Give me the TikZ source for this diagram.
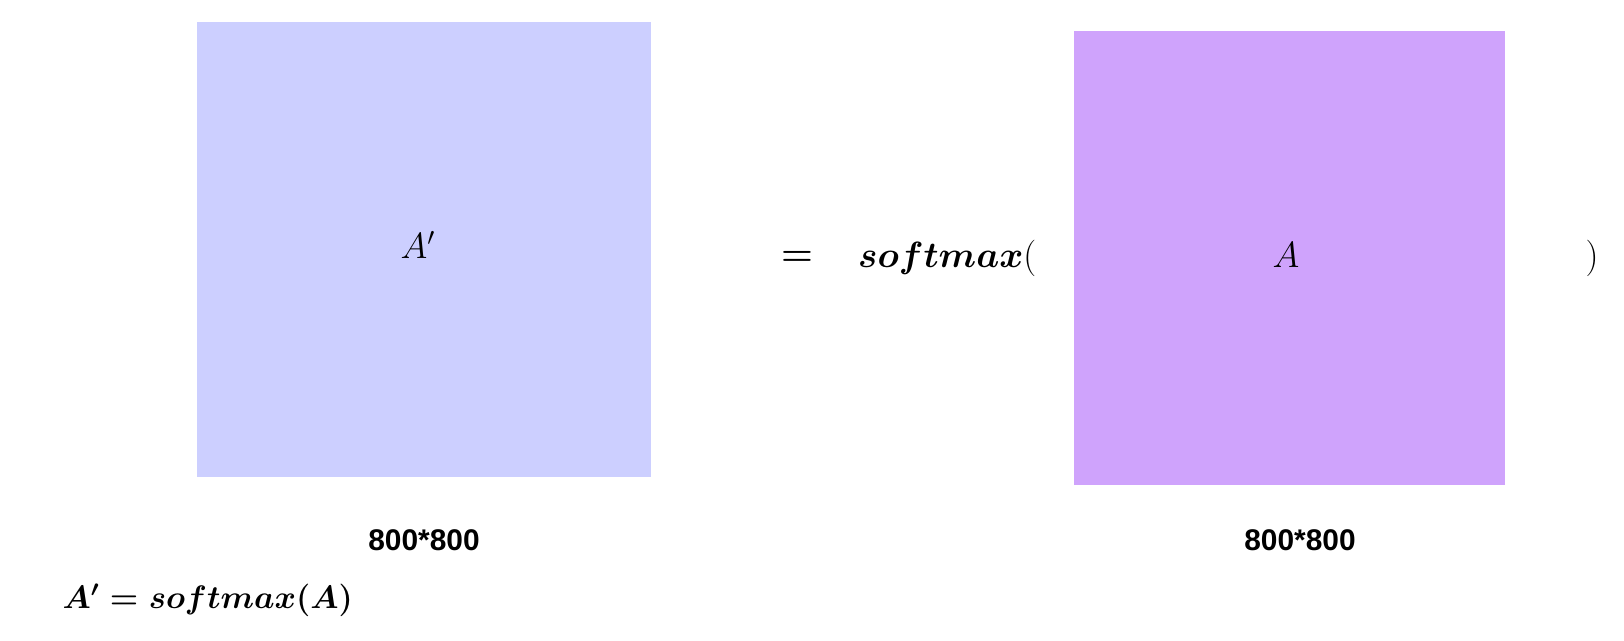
\documentclass[tikz,border=0pt]{standalone}
\usepackage{fontspec}
\usepackage{amsmath}
\setmainfont{Liberation Sans}
\definecolor{softblue}{RGB}{204,207,255}
\definecolor{softviolet}{RGB}{207,163,252}

\begin{document}
\begin{tikzpicture}[x=0.02cm, y=-0.02cm,
        matbox/.style={draw=none, inner sep=0pt, anchor=north west},
        mathlabel/.style={font=\fontsize{20}{24}\selectfont},
        bigmath/.style={font=\fontsize{21}{25}\selectfont},
        sizelabel/.style={font=\fontsize{17}{20}\selectfont\bfseries}]
        \useasboundingbox (0,0) rectangle (1624,640);

        % Left matrix A'
        \node[matbox, fill=softblue, minimum width=9.08cm, minimum height=9.1cm] (aprime) at (197,22) {};
        \node[mathlabel] (aprimelabel) at (418,245) {$A'$};
        \node[sizelabel] (aprimesize) at (424,540) {800*800};

        % Equation between the two matrices
        \node[bigmath] (equals) at (797,258) {$\boldsymbol{=}$};
        \node[bigmath, anchor=west] (softmaxopen) at (852,258) {$\boldsymbol{softmax}($};

        % Right matrix A
        \node[matbox, fill=softviolet, minimum width=8.62cm, minimum height=9.08cm] (amat) at (1074,31) {};
        \node[mathlabel] (alabel) at (1286,255) {$A$};
        \node[sizelabel] (asize) at (1300,540) {800*800};
        \node[bigmath] (softmaxclose) at (1592,258) {$)$};

        % Formula at the bottom
        \node[font=\fontsize{17}{20}\selectfont, scale=1.07, anchor=west] (formula) at (56,600) {$\boldsymbol{A'=softmax(A)}$};
\end{tikzpicture}
\end{document}
